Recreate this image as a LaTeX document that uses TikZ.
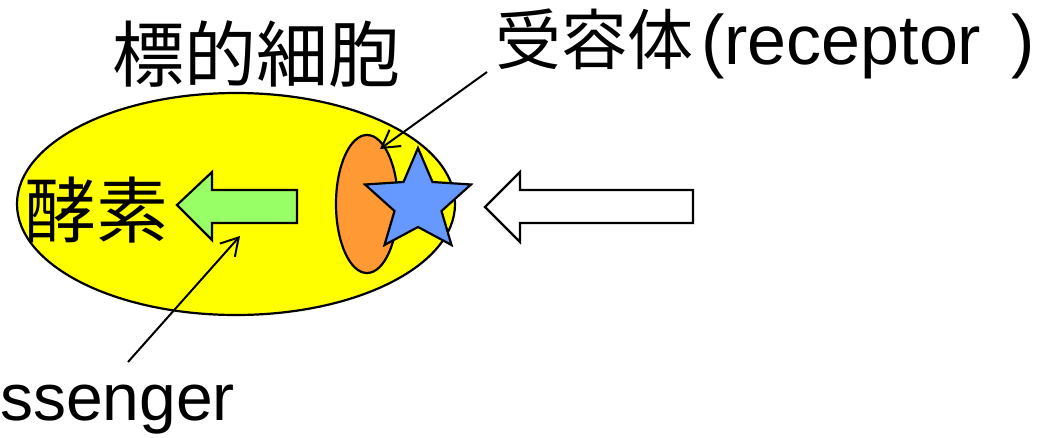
\documentclass[tikz,border=0pt]{standalone}
\usepackage{fontspec}
\setmainfont{Noto Sans CJK JP}
\newfontfamily\latinfont{Liberation Sans}
\usetikzlibrary{arrows.meta}
\definecolor{cellyellow}{HTML}{FFFF00}
\definecolor{recorange}{HTML}{FF9933}
\definecolor{starblue}{HTML}{6699FF}
\definecolor{enzgreen}{HTML}{99FF66}
\tikzset{
  outline/.style={draw=black, line width=2.2pt, line join=miter},
  pointer/.style={draw=black, line width=2pt, -{Straight Barb[length=17pt,width=20pt,line width=2pt]}},
  label/.style={inner sep=0pt, text=black},
}
\begin{document}
\begin{tikzpicture}[x=1pt,y=-1pt]
\useasboundingbox (0,0) rectangle (1061,437);

% target cell
\path[outline, fill=cellyellow] (236,204) ellipse [x radius=219, y radius=111];
% receptor
\path[outline, fill=recorange] (367,204) ellipse [x radius=31, y radius=69];
% ligand star
\path[outline, fill=starblue]
  (418,148) -- (432.5,182) -- (471,184.5) -- (441.5,211) -- (451.5,245)
  -- (418,227) -- (384.5,245) -- (394.5,211) -- (365,184.5) -- (403.5,182) -- cycle;

% incoming signal (white block arrow)
\path[outline, fill=white]
  (485,207) -- (520,172) -- (520,190) -- (693,190) -- (693,223) -- (520,223) -- (520,242) -- cycle;
% second messenger (green block arrow)
\path[outline, fill=enzgreen]
  (177,205) -- (212,172) -- (212,190) -- (297,190) -- (297,223) -- (212,223) -- (212,240) -- cycle;

% texts
\node[label, font=\fontsize{72}{78}\selectfont] (cell) at (256,54) {標的細胞};
\node[label, font=\fontsize{72}{78}\selectfont] (enzyme) at (96,210) {酵素};
\node[label, font=\fontsize{66}{72}\selectfont, anchor=base west] (receptor) at (495,64)
  {受容体\hskip 8pt{\latinfont\fontsize{70}{72}\selectfont (receptor\hskip 30pt)}};
\node[label, font=\latinfont\fontsize{66}{72}\selectfont, anchor=base west] (messenger) at (0,420) {ssenger};

% leader arrows
\coordinate (rtail) at (487,72);
\coordinate (rtip) at (380,149);
\coordinate (mtail) at (128,362);
\coordinate (mtip) at (240,236);
\draw[pointer] (rtail) -- (rtip);
\draw[pointer] (mtail) -- (mtip);
\end{tikzpicture}
\end{document}
